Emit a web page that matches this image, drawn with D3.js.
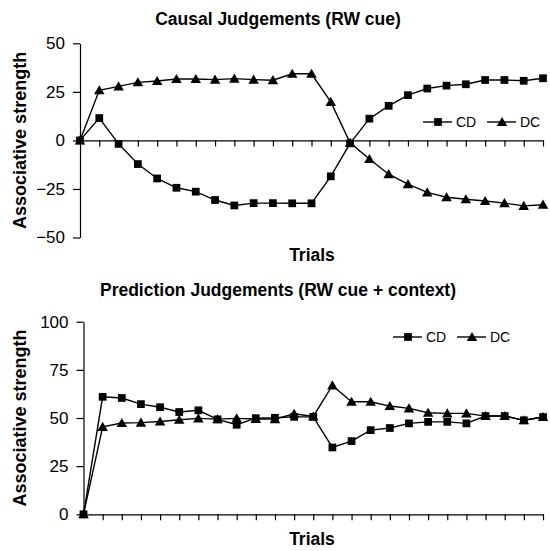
<!DOCTYPE html>
<html lang="en">
<head>
    <meta charset="UTF-8">
    <title>Causal and Prediction Judgements</title>
    <script src="https://d3js.org/d3.v7.min.js"></script>
    <style>
        body {
            margin: 0;
            background: #fff;
            font-family: "Liberation Sans", Arial, sans-serif;
        }
        svg text {
            fill: #000;
        }
    </style>
</head>
<body>
    <div id="chart"></div>

    <script>
        // trials 0..24
        const trials = d3.range(25);

        // Causal judgements (RW cue)
        const causalCD = [0, 11.5, -1.8, -12.2, -19.6, -24.4, -26.4, -30.7, -33.5, -32.3, -32.3, -32.4, -32.4,
            -18.5, -1.5, 11.2, 17.8, 23.3, 26.7, 28.2, 28.9, 31.1, 31.1, 30.7, 32];
        const causalDC = [0, 25.8, 27.8, 29.9, 30.6, 31.6, 31.6, 31.3, 31.8, 31.3, 31.0, 34.3, 34.3,
            19.8, -1.2, -9.6, -17.4, -22.5, -26.8, -29.3, -30.3, -31.2, -32.3, -33.7, -33.1];
        const causalTicks = [-50, -25, 0, 25, 50];

        // Prediction judgements (RW cue + context)
        const predCD = [0, 61.0, 60.4, 57.2, 55.6, 53.1, 54.0, 49.3, 46.5, 49.9, 50.1, 50.6, 50.6,
            34.7, 38.0, 43.7, 44.8, 47.2, 48.0, 48.0, 47.2, 51.0, 51.0, 48.8, 50.5];
        const predDC = [0, 45.4, 47.4, 47.6, 48.2, 49.1, 49.8, 49.4, 49.8, 49.5, 49.4, 52.2, 50.8,
            66.9, 58.4, 58.4, 56.2, 55.0, 52.7, 52.4, 52.4, 51.0, 51.0, 48.8, 50.5];
        const predTicks = [0, 25, 50, 75, 100];

        const seriesNames = ["CD", "DC"];

        const svg = d3.select("#chart").append("svg")
            .attr("width", 550).attr("height", 551);

        const square = d3.symbol().type(d3.symbolSquare).size(60);
        const triangle = d3.symbol().type(d3.symbolTriangle).size(48);

        function drawPanel(opt) {
            const g = svg.append("g");
            const x = d3.scaleLinear().domain([0, 24]).range([opt.left, 543]);
            const y = d3.scaleLinear().domain(opt.domain).range([opt.bottom, opt.top]);

            // y axis
            g.append("g")
                .attr("transform", `translate(${opt.left},0)`)
                .call(d3.axisLeft(y).tickValues(opt.ticks).tickSize(7).tickSizeOuter(0).tickPadding(8))
                .call(a => a.selectAll("text").style("font-size", "17px").attr("font-family", null))
                .call(a => a.selectAll("path, line").attr("stroke", "#000").attr("stroke-width", 1.2));

            // x axis, at zero
            g.append("g")
                .attr("transform", `translate(0,${y(0)})`)
                .call(d3.axisBottom(x).tickValues(trials.slice(1)).tickSize(6).tickSizeOuter(0).tickFormat(""))
                .call(a => a.selectAll("path, line").attr("stroke", "#000").attr("stroke-width", 1.2));

            const line = d3.line().x((d, i) => x(i)).y(d => y(d));
            const sets = [opt.cd, opt.dc];
            const shapes = [square, triangle];

            sets.forEach((vals, k) => {
                g.append("path")
                    .datum(vals)
                    .attr("fill", "none")
                    .attr("stroke", "#000")
                    .attr("stroke-width", 1.4)
                    .attr("d", line);
                g.selectAll(null)
                    .data(vals)
                    .enter().append("path")
                    .attr("d", shapes[k])
                    .attr("transform", (d, i) => `translate(${x(i)},${y(d) + (k === 1 ? 1 : 0)})`)
                    .attr("fill", "#000");
            });

            // legend
            const lg = g.append("g").attr("transform", `translate(0,${opt.legendY})`);
            seriesNames.forEach((name, k) => {
                const x0 = opt.legendX[k];
                lg.append("line")
                    .attr("x1", x0).attr("x2", x0 + 29)
                    .attr("y1", 0).attr("y2", 0)
                    .attr("stroke", "#000").attr("stroke-width", 1.4);
                lg.append("path")
                    .attr("d", shapes[k])
                    .attr("transform", `translate(${x0 + 15},${k === 1 ? 1 : 0})`)
                    .attr("fill", "#000");
                lg.append("text")
                    .attr("x", x0 + 33).attr("y", 5)
                    .style("font-size", "14px")
                    .text(name);
            });

            // titles
            g.append("text")
                .attr("x", 278).attr("y", opt.titleY)
                .attr("text-anchor", "middle")
                .style("font-size", "17.5px").style("font-weight", "bold")
                .text(opt.title);

            g.append("text")
                .attr("transform", `translate(26,${(opt.top + opt.bottom) / 2}) rotate(-90)`)
                .attr("text-anchor", "middle")
                .style("font-size", "18px").style("font-weight", "bold")
                .text("Associative strength");

            g.append("text")
                .attr("x", 312).attr("y", opt.trialsY)
                .attr("text-anchor", "middle")
                .style("font-size", "17.5px").style("font-weight", "bold")
                .text("Trials");
        }

        drawPanel({
            title: "Causal Judgements (RW cue)",
            cd: causalCD, dc: causalDC, ticks: causalTicks,
            domain: [-50, 50], left: 80, top: 43.3, bottom: 237.5,
            titleY: 25, trialsY: 261, legendY: 122, legendX: [423, 487]
        });

        drawPanel({
            title: "Prediction Judgements (RW cue + context)",
            cd: predCD, dc: predDC, ticks: predTicks,
            domain: [0, 100], left: 83.5, top: 321.7, bottom: 514.3,
            titleY: 296, trialsY: 545, legendY: 337, legendX: [393, 457]
        });
    </script>
</body>
</html>
